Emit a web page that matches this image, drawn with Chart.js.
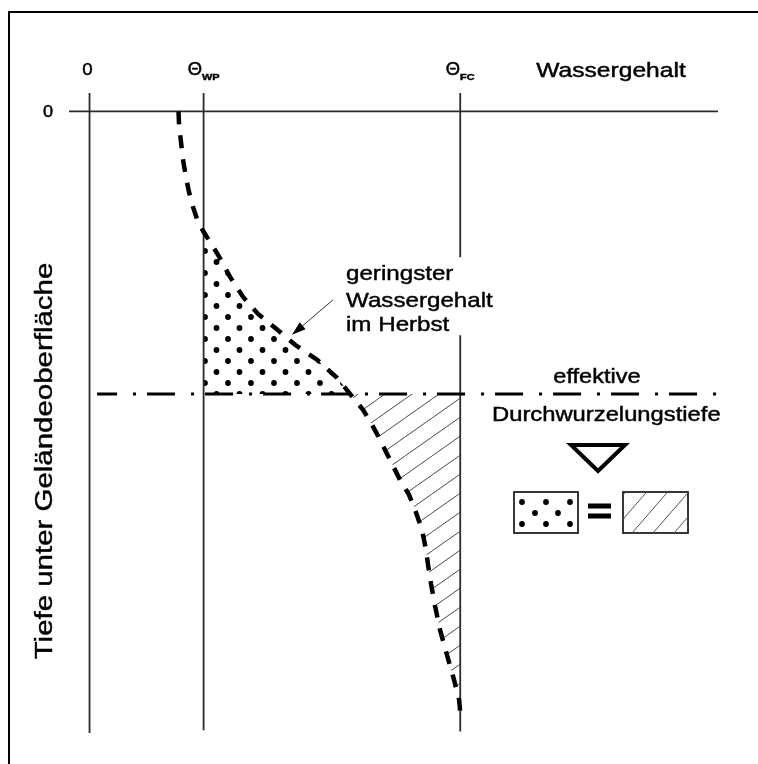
<!DOCTYPE html>
<html lang="de">
<head>
<meta charset="utf-8">
<title>Wassergehalt und Durchwurzelungstiefe</title>
<script src="https://cdn.jsdelivr.net/npm/chart.js@4.4.1/dist/chart.umd.min.js"></script>
<style>
  html, body { margin: 0; padding: 0; background: #fff; }
  canvas { display: block; }
</style>
</head>
<body>
<canvas id="profileChart" width="758" height="764"></canvas>
<script>
// water content (Vol-%) and depth below surface (cm)
const thetaWP = 10;
const thetaFC = 32.5;
const rootDepth = 100;

// soil moisture profile in autumn
const curveTheta = [7.8, 7.85, 8.02, 8.2, 8.46, 8.72, 9.07, 9.51, 10, 11.27, 12.32, 13.46, 14.77, 16.26, 18.02, 19.95, 21.7, 22.84,
                    23.98, 24.77, 25.47, 26.34, 27.22, 28.01, 28.54, 29.15, 29.5, 29.68, 29.94, 30.29, 30.73, 31.34, 31.96, 32.4, 32.5];
const curveDepth = [0, 4.8, 10.8, 17.2, 23.5, 28.5, 33.8, 39.1, 42.6, 50.8, 58.6, 65.7, 71.7, 76.6, 82.6, 87.9, 94.3, 100,
                    105.6, 110.9, 116.2, 123.3, 130.4, 135.7, 141, 148.1, 155.2, 160.5, 167.2, 175, 183.5, 192.4, 201.2, 208.3, 212.5];
const idxWP = 8;     // curve point on the wilting point line
const idxRoot = 17;  // curve point on the rooting depth line

const thetaRange = [-1.8, 55.1];
const depthRange = [-6.5, 220];
const fcGap = [51.6, 79.2];           // FC line is interrupted behind the label
const rootLineTheta = [0.66, 55.1];

const xTickValues = [0, thetaWP, thetaFC];
const xTickLabels = ["0", "\u0398", "\u0398"];
const xTickSubs = ["", "WP", "FC"];
const yTickValues = [0];
const yTickLabels = ["0"];

const arrowFrom = [21.35, 66.7];
const arrowTo = [17.75, 79.1];

const FONT = '"Liberation Sans", Arial, Helvetica, sans-serif';
const INK = "#000";
const AXIS = "#2b2b2b";

function pts(xs, ys) {
    return xs.map((x, i) => ({ x: x, y: ys[i] }));
}

function makeDotPattern() {
    const c = document.createElement("canvas");
    c.width = 23;
    c.height = 22;
    const g = c.getContext("2d");
    g.fillStyle = "#000";
    const dots = [[21, 9], [9.5, 20]];
    dots.forEach(([x, y]) => {
        for (let dx = -23; dx <= 23; dx += 23) {
            for (let dy = -22; dy <= 22; dy += 22) {
                g.beginPath();
                g.arc(x + dx, y + dy, 2.9, 0, Math.PI * 2);
                g.fill();
            }
        }
    });
    return g.createPattern(c, "repeat");
}

function makeHatchPattern() {
    const c = document.createElement("canvas");
    c.width = 27;
    c.height = 19;
    const g = c.getContext("2d");
    g.strokeStyle = "#4a4a4a";
    g.lineWidth = 1;
    for (let dx = -27; dx <= 27; dx += 27) {
        g.beginPath();
        g.moveTo(dx, 19);
        g.lineTo(dx + 27, 0);
        g.stroke();
    }
    return g.createPattern(c, "repeat");
}

function putText(ctx, str, x, y, size, align, stretch, weight) {
    ctx.save();
    ctx.translate(x, y);
    ctx.scale(stretch, 1);
    ctx.font = `${weight || "normal"} ${size}px ${FONT}`;
    ctx.textAlign = align;
    ctx.textBaseline = "alphabetic";
    ctx.fillStyle = INK;
    ctx.strokeStyle = INK;
    ctx.lineWidth = 0.45;
    ctx.fillText(str, 0, 0);
    ctx.strokeText(str, 0, 0);
    ctx.restore();
}

function textWidth(ctx, str, size, stretch, weight) {
    ctx.save();
    ctx.font = `${weight || "normal"} ${size}px ${FONT}`;
    const w = ctx.measureText(str).width * stretch;
    ctx.restore();
    return w;
}

const annotations = {
    id: "annotations",
    afterDraw(chart) {
        const ctx = chart.ctx;
        const xs = chart.scales.x;
        const ys = chart.scales.y;

        // frame
        ctx.save();
        ctx.strokeStyle = "#000";
        ctx.lineWidth = 2;
        ctx.beginPath();
        ctx.moveTo(9, 764);
        ctx.lineTo(9, 12);
        ctx.lineTo(758, 12);
        ctx.stroke();
        ctx.restore();

        // tick labels along the water content axis
        xTickValues.forEach((v, i) => {
            const px = xs.getPixelForValue(v);
            if (!xTickSubs[i]) {
                putText(ctx, xTickLabels[i], px - 2, 75, 17, "center", 1.1);
                return;
            }
            const w1 = textWidth(ctx, xTickLabels[i], 17.5, 1.05);
            const w2 = textWidth(ctx, xTickSubs[i], 9.5, 1.15, "bold");
            const start = px - (w1 + w2) / 2;
            putText(ctx, xTickLabels[i], start, 75, 17.5, "left", 1.05);
            putText(ctx, xTickSubs[i], start + w1, 80, 9.5, "left", 1.15, "bold");
        });
        putText(ctx, "Wassergehalt", 611, 77, 20.5, "center", 1.2);

        yTickValues.forEach((v, i) => {
            putText(ctx, yTickLabels[i], 48, ys.getPixelForValue(v) + 6, 16.5, "center", 1.1);
        });

        // depth axis title
        ctx.save();
        ctx.translate(52, 461);
        ctx.rotate(-Math.PI / 2);
        ctx.scale(1.28, 1);
        ctx.font = `23px ${FONT}`;
        ctx.textAlign = "center";
        ctx.fillStyle = INK;
        ctx.strokeStyle = INK;
        ctx.lineWidth = 0.4;
        ctx.fillText("Tiefe unter Geländeoberfläche", 0, 0);
        ctx.strokeText("Tiefe unter Geländeoberfläche", 0, 0);
        ctx.restore();

        // label of the autumn profile with arrow
        putText(ctx, "geringster", 346, 280, 21, "left", 1.15);
        putText(ctx, "Wassergehalt", 346, 306.5, 21, "left", 1.15);
        putText(ctx, "im Herbst", 346, 331, 21, "left", 1.15);

        const ax0 = xs.getPixelForValue(arrowFrom[0]), ay0 = ys.getPixelForValue(arrowFrom[1]);
        const ax1 = xs.getPixelForValue(arrowTo[0]), ay1 = ys.getPixelForValue(arrowTo[1]);
        const ang = Math.atan2(ay1 - ay0, ax1 - ax0);
        ctx.save();
        ctx.strokeStyle = "#333";
        ctx.lineWidth = 1;
        ctx.beginPath();
        ctx.moveTo(ax0, ay0);
        ctx.lineTo(ax1 - 8 * Math.cos(ang), ay1 - 8 * Math.sin(ang));
        ctx.stroke();
        ctx.fillStyle = "#000";
        ctx.beginPath();
        ctx.moveTo(ax1, ay1);
        ctx.lineTo(ax1 - 14 * Math.cos(ang) + 4.5 * Math.sin(ang), ay1 - 14 * Math.sin(ang) - 4.5 * Math.cos(ang));
        ctx.lineTo(ax1 - 14 * Math.cos(ang) - 4.5 * Math.sin(ang), ay1 - 14 * Math.sin(ang) + 4.5 * Math.cos(ang));
        ctx.closePath();
        ctx.fill();
        ctx.restore();

        // rooting depth label
        putText(ctx, "effektive", 597, 383, 20.5, "center", 1.15);
        putText(ctx, "Durchwurzelungstiefe", 492, 421, 20.5, "left", 1.16);

        // water table style triangle
        ctx.save();
        ctx.strokeStyle = "#000";
        ctx.lineWidth = 4;
        ctx.lineJoin = "miter";
        ctx.beginPath();
        ctx.moveTo(571, 445);
        ctx.lineTo(625, 445);
        ctx.lineTo(598, 471);
        ctx.closePath();
        ctx.stroke();
        ctx.restore();

        // dotted box = hatched box
        ctx.save();
        ctx.strokeStyle = "#222";
        ctx.lineWidth = 1.8;
        ctx.strokeRect(514, 492, 64, 41);
        ctx.fillStyle = "#000";
        [[9, 11], [33, 11], [57, 11], [22, 22], [45, 22], [9, 33], [33, 33], [57, 33]].forEach(([dx, dy]) => {
            ctx.beginPath();
            ctx.arc(513 + dx, 491 + dy, 2.9, 0, Math.PI * 2);
            ctx.fill();
        });
        ctx.fillRect(588, 503.5, 23, 5);
        ctx.fillRect(588, 513.5, 23, 5);
        ctx.strokeRect(623, 492, 65, 41);
        ctx.beginPath();
        ctx.rect(623, 492, 65, 41);
        ctx.clip();
        ctx.strokeStyle = "#555";
        ctx.lineWidth = 1;
        for (let c = 632 - 21 * 2; c < 700; c += 21) {
            ctx.beginPath();
            ctx.moveTo(c, 533);
            ctx.lineTo(c + 41 / 1.15, 492);
            ctx.stroke();
        }
        ctx.restore();
    }
};

const axisLine = { borderColor: AXIS, borderWidth: 1.8, pointRadius: 0, fill: false, clip: false, order: 1 };

const datasets = [
    // 0: autumn profile
    { data: pts(curveTheta, curveDepth), borderColor: "#000", borderWidth: 4.5, borderDash: [13, 11],
      borderCapStyle: "butt", pointRadius: 0, fill: false, clip: false, order: 0 },
    // 1: rooting depth
    { data: pts(rootLineTheta, [rootDepth, rootDepth]), borderColor: "#000", borderWidth: 3,
      borderDash: [28, 16, 3, 11], borderDashOffset: 8, borderCapStyle: "butt",
      pointRadius: 0, fill: false, clip: false, order: 0 },
    // 2: surface line
    Object.assign({ data: pts(thetaRange, [0, 0]) }, axisLine),
    // 3: theta = 0
    Object.assign({ data: pts([0, 0], depthRange) }, axisLine),
    // 4: wilting point
    Object.assign({ data: pts([thetaWP, thetaWP], [depthRange[0], 219]) }, axisLine),
    // 5: field capacity, with a gap for the label
    Object.assign({ data: [
        { x: thetaFC, y: depthRange[0] }, { x: thetaFC, y: fcGap[0] }, { x: thetaFC, y: null },
        { x: thetaFC, y: fcGap[1] }, { x: thetaFC, y: 219.5 }
    ], spanGaps: false }, axisLine),
    // 6: water missing above the rooting depth (dotted)
    { data: pts(curveTheta.slice(idxWP, idxRoot + 1), curveDepth.slice(idxWP, idxRoot + 1)),
      borderColor: "transparent", borderWidth: 0, pointRadius: 0,
      backgroundColor: makeDotPattern(), fill: 1, order: 10 },
    // 7: water available below the rooting depth (hatched)
    { data: pts(curveTheta.slice(idxRoot), curveDepth.slice(idxRoot)),
      borderColor: "transparent", borderWidth: 0, pointRadius: 0,
      backgroundColor: makeHatchPattern(), fill: 1, order: 10 }
];

new Chart(document.getElementById("profileChart"), {
    type: "line",
    data: { datasets: datasets },
    options: {
        responsive: false,
        animation: false,
        events: [],
        layout: { padding: { left: 69, top: 93, right: 40, bottom: 31 } },
        elements: { line: { tension: 0 } },
        plugins: { legend: { display: false }, tooltip: { enabled: false } },
        scales: {
            x: { type: "linear", min: thetaRange[0], max: thetaRange[1], display: false },
            y: { type: "linear", min: depthRange[0], max: depthRange[1], reverse: true, display: false }
        }
    },
    plugins: [annotations]
});
</script>
</body>
</html>
